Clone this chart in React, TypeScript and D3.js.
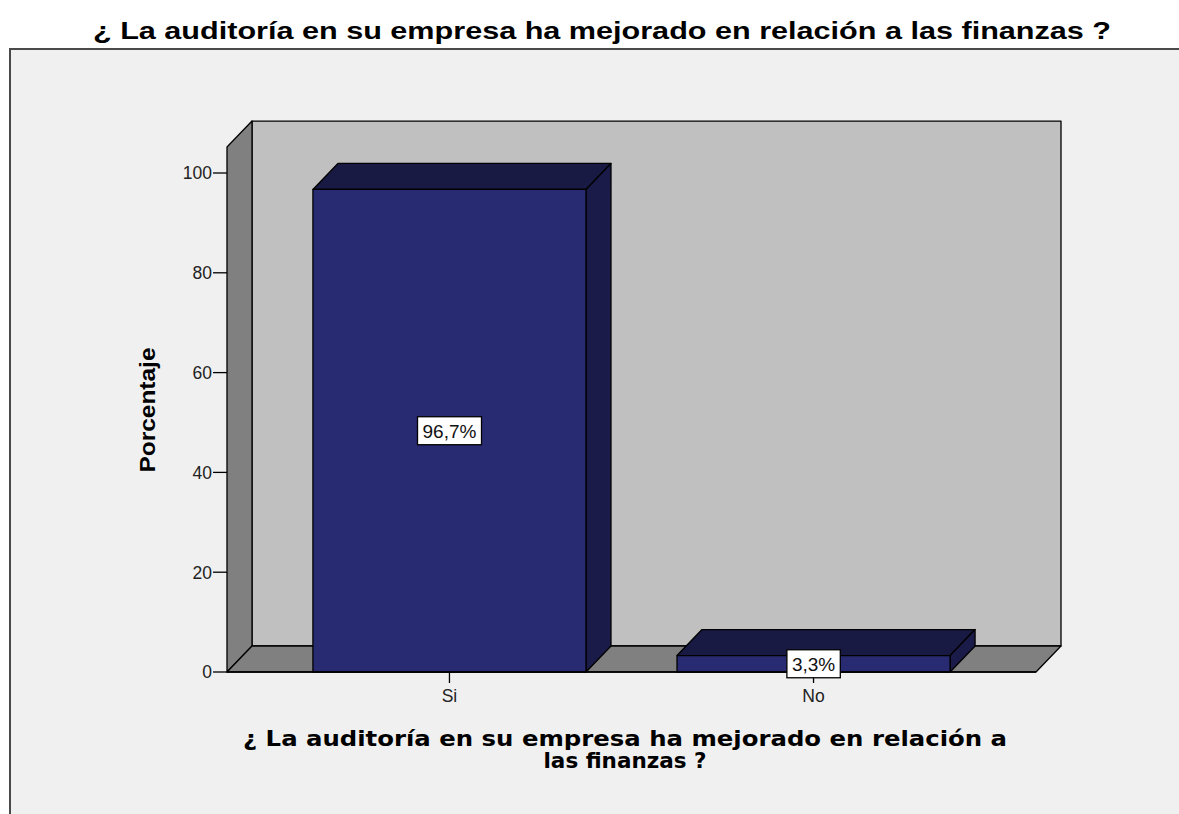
import React, { useRef, useEffect } from "react";
import * as d3 from "d3";

// chart data
const categories = ["Si", "No"];
const percentages = [96.7, 3.3];
const valueLabels = ["96,7%", "3,3%"];
const yTicks = [0, 20, 40, 60, 80, 100];

const title = "¿ La auditoría en su empresa ha mejorado en relación a las finanzas ?";
const xTitleLines = ["¿ La auditoría en su empresa ha mejorado en relación a", "las finanzas ?"];
const yTitle = "Porcentaje";

const App = () => {
  const svgRef = useRef<SVGSVGElement>(null);
  const width = 1179;
  const height = 814;
  const margin = { top: 147, right: 143, bottom: 142, left: 227 };
  const depth = { dx: 25, dy: -26 };

  useEffect(() => {
    document.body.style.margin = "0";
    document.body.style.overflow = "hidden";

    const svg = d3.select(svgRef.current);
    svg.selectAll("*").remove();

    const x0 = margin.left;
    const x1 = width - margin.right;
    const yBase = height - margin.bottom;

    const x = d3
      .scaleBand()
      .domain(categories)
      .range([x0, x1])
      .paddingInner(0.25)
      .paddingOuter(0.236);

    const y = d3.scaleLinear().domain([0, 100]).range([yBase, 173]);
    const yTop = y(105.2);

    const pts = (arr: number[][]) => arr.map((p) => p.join(",")).join(" ");

    // outer frame
    svg
      .append("rect")
      .attr("width", width)
      .attr("height", height)
      .attr("fill", "#ffffff");
    svg
      .append("rect")
      .attr("x", 10)
      .attr("y", 49)
      .attr("width", width + 20)
      .attr("height", height)
      .attr("fill", "#f0f0f0")
      .attr("stroke", "#4a4a4a")
      .attr("stroke-width", 2);

    // title
    svg
      .append("text")
      .attr("x", 602)
      .attr("y", 39)
      .attr("text-anchor", "middle")
      .attr("font-family", "Liberation Sans, Arial, sans-serif")
      .attr("font-weight", "bold")
      .attr("font-size", 24)
      .attr("textLength", 1018)
      .attr("lengthAdjust", "spacingAndGlyphs")
      .text(title);

    // 3D walls
    const g = svg.append("g").attr("stroke", "#000").attr("stroke-width", 1.3).attr("stroke-linejoin", "round");
    g.append("polygon")
      .attr(
        "points",
        pts([
          [x0 + depth.dx, yTop + depth.dy],
          [x1 + depth.dx, yTop + depth.dy],
          [x1 + depth.dx, yBase + depth.dy],
          [x0 + depth.dx, yBase + depth.dy],
        ])
      )
      .attr("fill", "#c0c0c0");
    g.append("polygon")
      .attr(
        "points",
        pts([
          [x0, yTop],
          [x0 + depth.dx, yTop + depth.dy],
          [x0 + depth.dx, yBase + depth.dy],
          [x0, yBase],
        ])
      )
      .attr("fill", "#808080");
    g.append("polygon")
      .attr(
        "points",
        pts([
          [x0, yBase],
          [x0 + depth.dx, yBase + depth.dy],
          [x1 + depth.dx, yBase + depth.dy],
          [x1, yBase],
        ])
      )
      .attr("fill", "#808080");

    // bars
    const bw = x.bandwidth();
    categories.forEach((c, i) => {
      const bx = x(c) as number;
      const by = y(percentages[i]);
      const bar = g.append("g");
      bar
        .append("polygon")
        .attr(
          "points",
          pts([
            [bx, by],
            [bx + depth.dx, by + depth.dy],
            [bx + bw + depth.dx, by + depth.dy],
            [bx + bw, by],
          ])
        )
        .attr("fill", "#191a44");
      bar
        .append("polygon")
        .attr(
          "points",
          pts([
            [bx + bw, by],
            [bx + bw + depth.dx, by + depth.dy],
            [bx + bw + depth.dx, yBase + depth.dy],
            [bx + bw, yBase],
          ])
        )
        .attr("fill", "#1a1b48");
      bar
        .append("rect")
        .attr("x", bx)
        .attr("y", by)
        .attr("width", bw)
        .attr("height", yBase - by)
        .attr("fill", "#282a72");
    });

    // y axis ticks
    const axisFont = "Liberation Sans, Arial, sans-serif";
    const yAxis = svg.append("g");
    yTicks.forEach((t) => {
      yAxis
        .append("line")
        .attr("x1", x0 - 14)
        .attr("x2", x0)
        .attr("y1", y(t))
        .attr("y2", y(t))
        .attr("stroke", "#000")
        .attr("stroke-width", 1.3);
      yAxis
        .append("text")
        .attr("x", x0 - 15)
        .attr("y", y(t))
        .attr("dy", "0.36em")
        .attr("text-anchor", "end")
        .attr("font-family", axisFont)
        .attr("font-size", 17.5)
        .attr("fill", "#222")
        .text(t);
    });
    svg
      .append("line")
      .attr("x1", x0)
      .attr("x2", x1)
      .attr("y1", yBase)
      .attr("y2", yBase)
      .attr("stroke", "#000")
      .attr("stroke-width", 1.3);

    // x axis ticks
    categories.forEach((c) => {
      const cx = (x(c) as number) + bw / 2;
      svg
        .append("line")
        .attr("x1", cx)
        .attr("x2", cx)
        .attr("y1", yBase)
        .attr("y2", yBase + 11)
        .attr("stroke", "#000")
        .attr("stroke-width", 1.3);
      svg
        .append("text")
        .attr("x", cx)
        .attr("y", yBase + 30)
        .attr("text-anchor", "middle")
        .attr("font-family", axisFont)
        .attr("font-size", 17.5)
        .attr("fill", "#222")
        .text(c);
    });

    // value labels in boxes
    categories.forEach((c, i) => {
      const cx = (x(c) as number) + bw / 2;
      const cy = (y(percentages[i]) + yBase) / 2;
      const lab = svg.append("g");
      const txt = lab
        .append("text")
        .attr("x", cx)
        .attr("y", cy)
        .attr("dy", "0.36em")
        .attr("text-anchor", "middle")
        .attr("font-family", axisFont)
        .attr("font-size", 19)
        .attr("fill", "#111")
        .text(valueLabels[i]);
      const bb = (txt.node() as SVGTextElement).getBBox();
      lab
        .insert("rect", "text")
        .attr("x", bb.x - 5)
        .attr("y", cy - 14)
        .attr("width", bb.width + 10)
        .attr("height", 28)
        .attr("fill", "#fff")
        .attr("stroke", "#000")
        .attr("stroke-width", 1.3);
    });

    // axis titles
    svg
      .append("text")
      .attr("transform", `translate(155,410) rotate(-90)`)
      .attr("text-anchor", "middle")
      .attr("font-family", "Liberation Sans, Arial, sans-serif")
      .attr("font-weight", "bold")
      .attr("font-size", 22)
      .attr("textLength", 125)
      .attr("lengthAdjust", "spacingAndGlyphs")
      .text(yTitle);

    xTitleLines.forEach((line, i) => {
      const t = svg
        .append("text")
        .attr("x", 625)
        .attr("y", 746 + i * 22)
        .attr("text-anchor", "middle")
        .attr("font-family", "DejaVu Sans, Verdana, sans-serif")
        .attr("font-weight", "bold")
        .attr("font-size", 21);
      if (i === 0) t.attr("textLength", 764).attr("lengthAdjust", "spacingAndGlyphs");
      else t.attr("textLength", 163).attr("lengthAdjust", "spacingAndGlyphs");
      t.text(line);
    });
  }, []);

  return <svg ref={svgRef} width={width} height={height} style={{ display: "block" }}></svg>;
};

export default App;
